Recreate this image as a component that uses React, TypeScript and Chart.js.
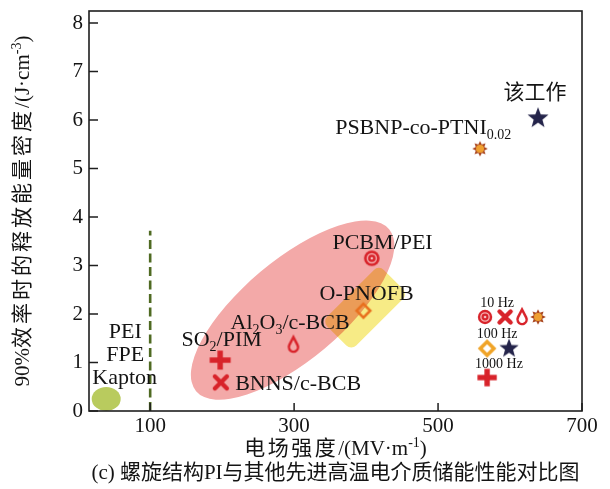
import React, { useEffect, useRef } from "react";
import { Chart, registerables } from "chart.js";

Chart.register(...registerables);

// ---------- data ----------
const xTickValues = [100, 300, 500, 700];
const yTickValues = [0, 1, 2, 3, 4, 5, 6, 7, 8];

const materials = ["该工作", "PSBNP-co-PTNI0.02", "PCBM/PEI", "O-PNOFB", "Al2O3/c-BCB", "SO2/PIM", "BNNS/c-BCB"];
const fieldStrength = [638.9, 558.3, 407.9, 396.3, 299.0, 197.2, 198.2];
const energyDensity = [6.04, 5.41, 3.15, 2.07, 1.37, 1.05, 0.59];
const materialMarker = ["star", "sun", "target", "diamond", "drop", "plus", "cross"];
const materialLabelX = [634.7, 357, 422.9, 400.7, 294.4, 199.3, 218.1];
const materialLabelY = [6.57, 5.86, 3.5, 2.44, 1.85, 1.5, 0.58];

const freqKeyMarker = ["target", "cross", "drop", "sun", "diamond", "star", "plus"];
const freqKeyX = [565.3, 593.1, 616.7, 638.9, 568.1, 598.6, 568.1];
const freqKeyY = [1.94, 1.94, 1.94, 1.94, 1.29, 1.29, 0.69];

const freqLabels = ["10 Hz", "100 Hz", "1000 Hz"];
const freqLabelX = [582, 582, 584.7];
const freqLabelY = [2.24, 1.6, 0.99];

const polymerGroup = ["PEI", "FPE", "Kapton"];
const polymerLabelX = [65.3, 65.3, 64.6];
const polymerLabelY = [1.66, 1.19, 0.7];
const polymerRegion = [38.9, 0.25];

const compositeRegion = [297.9, 2.08];
const orientedRegion = [398.6, 2.13];
const refLineX = 100;
const refLineTop = 3.72;

const xTitle = "电场强度/(MV·m";
const yTitle = "90%效率时的释放能量密度/(J·cm";
const caption = "(c) 螺旋结构PI与其他先进高温电介质储能性能对比图";

// ---------- styling helpers ----------
const RED = "#D8232A";
const FONT_FAMILY = '"Liberation Serif", "Noto Sans CJK SC", serif';
const font = (s: number) => `${s}px ${FONT_FAMILY}`;

type Seg = { t: string; size?: number; dy?: number; gap?: number };

function drawRich(ctx: CanvasRenderingContext2D, segs: Seg[], x: number, yCenter: number, align: string, base: number) {
  const widths = segs.map((s) => {
    ctx.font = font(s.size ?? base);
    if (s.gap) return [...s.t].reduce((w, ch) => w + ctx.measureText(ch).width + (s.gap as number), 0);
    return ctx.measureText(s.t).width;
  });
  const total = widths.reduce((a, b) => a + b, 0);
  let cx = align === "center" ? x - total / 2 : align === "right" ? x - total : x;
  const baseline = yCenter + base * 0.33;
  ctx.textAlign = "left";
  ctx.textBaseline = "alphabetic";
  segs.forEach((s, i) => {
    ctx.font = font(s.size ?? base);
    if (s.gap) {
      for (const ch of [...s.t]) {
        ctx.fillText(ch, cx, baseline + (s.dy ?? 0));
        cx += ctx.measureText(ch).width + (s.gap as number);
      }
    } else {
      ctx.fillText(s.t, cx, baseline + (s.dy ?? 0));
      cx += widths[i];
    }
  });
}

function splitChem(name: string): Seg[] {
  if (name === "PSBNP-co-PTNI0.02") return [{ t: "PSBNP-co-PTNI" }, { t: "0.02", size: 14, dy: 5 }];
  if (name === "Al2O3/c-BCB") return [{ t: "Al" }, { t: "2", size: 14, dy: 5 }, { t: "O" }, { t: "3", size: 14, dy: 5 }, { t: "/c-BCB" }];
  if (name === "SO2/PIM") return [{ t: "SO" }, { t: "2", size: 14, dy: 5 }, { t: "/PIM" }];
  return [{ t: name }];
}

function makeMarker(kind: string, legend: boolean): HTMLCanvasElement {
  const size = 26;
  const c = document.createElement("canvas");
  c.width = size;
  c.height = size;
  const g = c.getContext("2d") as CanvasRenderingContext2D;
  g.translate(size / 2, size / 2);
  const k = legend ? 0.92 : 1;
  if (kind === "star") {
    const R = 11 * k, r = 4.6 * k;
    g.beginPath();
    for (let i = 0; i < 10; i++) {
      const a = -Math.PI / 2 + (i * Math.PI) / 5;
      const rr = i % 2 ? r : R;
      g.lineTo(rr * Math.cos(a), rr * Math.sin(a));
    }
    g.closePath();
    g.fillStyle = "#24244A";
    g.fill();
  } else if (kind === "sun") {
    g.beginPath();
    for (let i = 0; i < 16; i++) {
      const a = -Math.PI / 2 + (i * Math.PI) / 8;
      const rr = i % 2 ? 4.6 : 7.8;
      g.lineTo(rr * Math.cos(a), rr * Math.sin(a));
    }
    g.closePath();
    g.fillStyle = "#A8451E";
    g.fill();
    g.beginPath();
    g.arc(0, 0, 4, 0, Math.PI * 2);
    g.fillStyle = "#F0A030";
    g.fill();
  } else if (kind === "target") {
    g.beginPath();
    g.arc(0, 0, 7.8 * k, 0, Math.PI * 2);
    g.fillStyle = RED;
    g.fill();
    g.beginPath();
    g.arc(0, 0, 4.5 * k, 0, Math.PI * 2);
    g.strokeStyle = "#F6B0B0";
    g.lineWidth = 1.4;
    g.stroke();
    g.beginPath();
    g.arc(0, 0, 1.3, 0, Math.PI * 2);
    g.fillStyle = "#F6C0C0";
    g.fill();
  } else if (kind === "diamond") {
    const h = 6.8;
    g.beginPath();
    g.moveTo(0, -h);
    g.lineTo(h, 0);
    g.lineTo(0, h);
    g.lineTo(-h, 0);
    g.closePath();
    g.strokeStyle = legend ? "#F0A428" : "#E8701E";
    g.lineWidth = legend ? 3.6 : 2.6;
    g.lineJoin = "miter";
    g.stroke();
  } else if (kind === "drop") {
    const cy = 2.5, r = 4.6, top = -7.5;
    const d = cy - top;
    const t = Math.acos(r / d);
    g.beginPath();
    g.moveTo(0, top);
    g.arc(0, cy, r, -Math.PI / 2 + t, -Math.PI / 2 - t + Math.PI * 2, false);
    g.closePath();
    g.strokeStyle = RED;
    g.lineWidth = 2.5;
    g.stroke();
  } else if (kind === "plus") {
    g.fillStyle = RED;
    const w = 5.4;
    g.fillRect(-10.5 * k, -w / 2, 21 * k, w);
    g.fillRect(-w / 2, -9.5 * k, w, 19 * k);
  } else if (kind === "cross") {
    g.strokeStyle = RED;
    g.lineWidth = 4.4;
    g.lineCap = "round";
    const a = 6 * k;
    g.beginPath();
    g.moveTo(-a, -a);
    g.lineTo(a, a);
    g.moveTo(a, -a);
    g.lineTo(-a, a);
    g.stroke();
  }
  return c;
}

const decorPlugin = {
  id: "decor",
  beforeDatasetsDraw(chart: any) {
    const { ctx, chartArea: ca, scales } = chart;
    const xs = scales.x, ys = scales.y;
    ctx.save();
    ctx.beginPath();
    ctx.rect(ca.left, ca.top, ca.right - ca.left, ca.bottom - ca.top);
    ctx.clip();
    // composite region (pink ellipse)
    ctx.beginPath();
    ctx.ellipse(xs.getPixelForValue(compositeRegion[0]), ys.getPixelForValue(compositeRegion[1]), 126, 50, (-40 * Math.PI) / 180, 0, Math.PI * 2);
    ctx.fillStyle = "#F3A9A8";
    ctx.fill();
    // oriented region (yellow rounded rect, multiplied)
    ctx.save();
    ctx.globalCompositeOperation = "multiply";
    ctx.translate(xs.getPixelForValue(orientedRegion[0]), ys.getPixelForValue(orientedRegion[1]));
    ctx.rotate((-45 * Math.PI) / 180);
    ctx.beginPath();
    ctx.roundRect(-40, -20.5, 80, 41, 7);
    ctx.fillStyle = "#F7EB86";
    ctx.fill();
    ctx.restore();
    // polymer region (green blob)
    ctx.beginPath();
    ctx.ellipse(xs.getPixelForValue(polymerRegion[0]), ys.getPixelForValue(polymerRegion[1]), 14.5, 12, 0, 0, Math.PI * 2);
    ctx.fillStyle = "#B9CB5E";
    ctx.fill();
    // dashed reference line
    const lx = xs.getPixelForValue(refLineX);
    ctx.beginPath();
    ctx.setLineDash([9, 4.5]);
    ctx.moveTo(lx, ys.getPixelForValue(0));
    ctx.lineTo(lx, ys.getPixelForValue(refLineTop));
    ctx.strokeStyle = "#4F6A22";
    ctx.lineWidth = 2.6;
    ctx.stroke();
    ctx.restore();
  },
  afterDatasetsDraw(chart: any) {
    const { ctx, chartArea: ca, scales } = chart;
    const xs = scales.x, ys = scales.y;
    ctx.save();
    ctx.fillStyle = "#141414";
    // material labels
    materials.forEach((m, i) => {
      const px = xs.getPixelForValue(materialLabelX[i]);
      const py = ys.getPixelForValue(materialLabelY[i]);
      if (i === 0) {
        drawRich(ctx, [{ t: m }], px, py, "center", 21);
      } else {
        const align = i === 1 || i === 6 ? "left" : "center";
        drawRich(ctx, splitChem(m), px, py, align, 22);
      }
    });
    polymerGroup.forEach((p, i) => {
      drawRich(ctx, [{ t: p }], xs.getPixelForValue(polymerLabelX[i]), ys.getPixelForValue(polymerLabelY[i]), "center", 22);
    });
    freqLabels.forEach((f, i) => {
      drawRich(ctx, [{ t: f }], xs.getPixelForValue(freqLabelX[i]), ys.getPixelForValue(freqLabelY[i]), "center", 14);
    });
    // frame
    ctx.strokeStyle = "#1E1E1E";
    ctx.lineWidth = 1.6;
    ctx.setLineDash([]);
    ctx.strokeRect(ca.left, ca.top, ca.right - ca.left, ca.bottom - ca.top);
    // inward ticks
    ctx.lineWidth = 1.5;
    ctx.beginPath();
    ys.ticks.forEach((t: any) => {
      const py = ys.getPixelForValue(t.value);
      ctx.moveTo(ca.left, py);
      ctx.lineTo(ca.left + 9, py);
    });
    xs.ticks.forEach((t: any) => {
      const px = xs.getPixelForValue(t.value);
      ctx.moveTo(px, ca.bottom);
      ctx.lineTo(px, ca.bottom - 8);
    });
    ctx.stroke();
    // axis titles
    const cxm = (ca.left + ca.right) / 2;
    const cym = (ca.top + ca.bottom) / 2;
    drawRich(ctx, [{ t: xTitle.slice(0, 4), gap: 2.5 }, { t: xTitle.slice(4) }, { t: "-1", size: 14, dy: -8 }, { t: ")" }], cxm, 448, "center", 21);
    ctx.save();
    ctx.translate(22, cym);
    ctx.rotate(-Math.PI / 2);
    drawRich(ctx, [{ t: yTitle.slice(0, 3) }, { t: yTitle.slice(3, 13), gap: 3 }, { t: yTitle.slice(13) }, { t: "-3", size: 14, dy: -8 }, { t: ")" }], 0, 0, "center", 21);
    ctx.restore();
    drawRich(ctx, [{ t: caption }], cxm, 472, "center", 21);
    ctx.restore();
  },
};

export default function App() {
  const ref = useRef<HTMLCanvasElement | null>(null);
  useEffect(() => {
    const canvas = ref.current;
    if (!canvas) return;
    const mainImgs = materialMarker.map((m) => makeMarker(m, false));
    const keyImgs = freqKeyMarker.map((m) => makeMarker(m, true));
    const chart = new Chart(canvas, {
      type: "scatter",
      data: {
        datasets: [
          {
            label: "materials",
            data: fieldStrength.map((x, i) => ({ x, y: energyDensity[i] })),
            pointStyle: mainImgs as any,
            pointRadius: 10,
            pointHoverRadius: 10,
          },
          {
            label: "frequency key",
            data: freqKeyX.map((x, i) => ({ x, y: freqKeyY[i] })),
            pointStyle: keyImgs as any,
            pointRadius: 10,
            pointHoverRadius: 10,
          },
        ],
      },
      options: {
        responsive: false,
        animation: false,
        devicePixelRatio: 1,
        events: [],
        layout: { padding: { left: 0, top: 3, right: 28, bottom: 0 } },
        plugins: { legend: { display: false }, tooltip: { enabled: false } },
        scales: {
          x: {
            type: "linear",
            min: 15,
            max: 700,
            afterBuildTicks: (s: any) => {
              s.ticks = xTickValues.map((v) => ({ value: v }));
            },
            afterFit: (s: any) => {
              s.height = 78;
              s.paddingLeft = 0;
              s.paddingRight = 0;
            },
            grid: { display: false, drawTicks: false },
            border: { display: false },
            ticks: {
              font: { family: FONT_FAMILY, size: 21 },
              color: "#141414",
              padding: 3,
              maxRotation: 0,
              autoSkip: false,
            },
          },
          y: {
            type: "linear",
            min: 0,
            max: 8.25,
            afterBuildTicks: (s: any) => {
              s.ticks = yTickValues.map((v) => ({ value: v }));
            },
            afterFit: (s: any) => {
              s.width = 89;
              s.paddingTop = 0;
              s.paddingBottom = 0;
            },
            grid: { display: false, drawTicks: false },
            border: { display: false },
            ticks: {
              font: { family: FONT_FAMILY, size: 21 },
              color: "#141414",
              padding: 6,
              autoSkip: false,
            },
          },
        },
      } as any,
      plugins: [decorPlugin],
    });
    return () => chart.destroy();
  }, []);
  return (
    <div style={{ position: "absolute", left: 0, top: 0, width: 610, height: 489, background: "#fff" }}>
      <canvas ref={ref} width={610} height={489} style={{ display: "block" }} />
    </div>
  );
}
